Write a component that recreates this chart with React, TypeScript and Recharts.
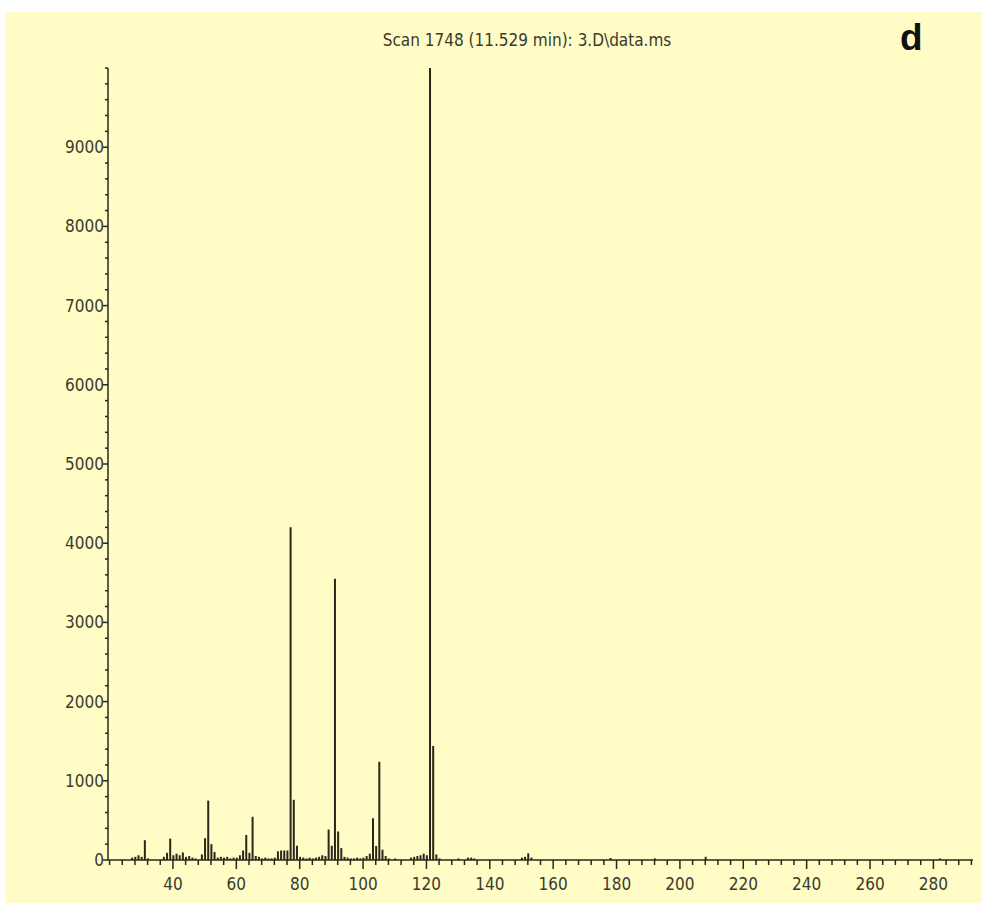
import React from 'react';
import { ComposedChart, Bar, XAxis, YAxis } from 'recharts';

// m/z and abundance of each ion in the scan
const MZ = [
  27, 28, 29, 30, 31, 32, 37, 38, 39, 40, 41, 42, 43, 44, 45, 46, 47, 49, 50, 51,
  52, 53, 54, 55, 56, 57, 58, 59, 60, 61, 62, 63, 64, 65, 66, 67, 68, 69, 70, 71,
  72, 73, 74, 75, 76, 77, 78, 79, 80, 81, 82, 83, 84, 85, 86, 87, 88, 89, 90, 91,
  92, 93, 94, 95, 96, 97, 98, 99, 100, 101, 102, 103, 104, 105, 106, 107, 108, 110,
  115, 116, 117, 118, 119, 120, 121, 122, 123, 124, 130, 133, 134, 135, 150, 151,
  152, 153, 178, 192, 208, 282,
];
const ABUNDANCE = [
  30, 40, 60, 40, 250, 20, 40, 90, 270, 60, 80, 60, 95, 40, 50, 30, 20, 70, 275, 750,
  200, 100, 30, 40, 30, 40, 20, 30, 30, 60, 120, 316, 90, 545, 50, 40, 20, 30, 20, 20,
  30, 110, 120, 120, 120, 4200, 760, 180, 40, 30, 20, 30, 20, 30, 40, 60, 50, 385, 180, 3550,
  360, 150, 40, 30, 20, 20, 30, 20, 30, 50, 80, 527, 177, 1240, 130, 50, 20, 20,
  30, 40, 50, 60, 80, 60, 10000, 1440, 70, 20, 20, 30, 30, 20, 30, 40,
  85, 30, 25, 20, 40, 20,
];

const X_LABELS = [40, 60, 80, 100, 120, 140, 160, 180, 200, 220, 240, 260, 280];
const Y_LABELS = [0, 1000, 2000, 3000, 4000, 5000, 6000, 7000, 8000, 9000];
// minor ticks: every 4 m/z units and every 200 counts
const X_TICKS = Array.from({ length: 69 }, (_, i) => 20 + i * 4);
const Y_TICKS = Array.from({ length: 51 }, (_, i) => i * 200);

const TITLE = 'Scan 1748 (11.529 min): 3.D\\data.ms';
const PANEL = 'd';

const INK = '#28281a';
const TEXT = '#3a3a30';
const BG = '#fffcc6';
const FONT = "'Liberation Sans Narrow', 'DejaVu Sans Condensed', 'Arial Narrow', sans-serif";

const data = MZ.map((mz, i) => ({ mz, abundance: ABUNDANCE[i] }));

const XTick = (props: any) => {
  const { x, y, payload } = props;
  const major = X_LABELS.includes(payload.value);
  return (
    <g>
      <line x1={x} x2={x} y1={y} y2={y + (major ? 9 : 5)} stroke={INK} strokeWidth={1.5} />
      {major && (
        <text x={x} y={y + 30} textAnchor="middle" fill={TEXT} fontSize={17} fontFamily={FONT}>
          {payload.value}
        </text>
      )}
    </g>
  );
};

const YTick = (props: any) => {
  const { x, y, payload } = props;
  const major = Y_LABELS.includes(payload.value);
  return (
    <g>
      <line x1={x - (major ? 5 : 3)} x2={x} y1={y} y2={y} stroke={INK} strokeWidth={1.5} />
      {major && (
        <text x={x - 4} y={y + 6} textAnchor="end" fill={TEXT} fontSize={17} fontFamily={FONT}>
          {payload.value}
        </text>
      )}
    </g>
  );
};

export default function App() {
  return (
    <div style={{ position: 'absolute', left: 0, top: 0, width: 982, height: 903, background: '#fff', overflow: 'hidden' }}>
      <div style={{ position: 'absolute', left: 5, top: 12, right: 0, bottom: 0, background: BG }} />
      <div style={{ position: 'absolute', left: 0, top: 0 }}>
        <ComposedChart
          width={982}
          height={903}
          data={data}
          margin={{ top: 68, right: 9, bottom: 0, left: 48 }}
        >
          <XAxis
            dataKey="mz"
            type="number"
            domain={[19.5, 292.5]}
            allowDataOverflow
            ticks={X_TICKS}
            interval={0}
            tickSize={0}
            tickMargin={0}
            tickLine={false}
            tick={<XTick />}
            height={43}
            axisLine={{ stroke: INK, strokeWidth: 1.5 }}
          />
          <YAxis
            type="number"
            domain={[0, 10000]}
            allowDataOverflow
            ticks={Y_TICKS}
            interval={0}
            tickSize={0}
            tickMargin={0}
            tickLine={false}
            tick={<YTick />}
            width={60}
            axisLine={{ stroke: INK, strokeWidth: 1.5 }}
          />
          <Bar dataKey="abundance" fill={INK} barSize={2} isAnimationActive={false} />
        </ComposedChart>
      </div>
      <div
        style={{
          position: 'absolute', left: 527, top: 30, transform: 'translateX(-50%)',
          fontFamily: FONT, fontSize: 17, color: TEXT, whiteSpace: 'nowrap',
        }}
      >
        {TITLE}
      </div>
      <div
        style={{
          position: 'absolute', left: 900, top: 17,
          fontFamily: "'Liberation Sans', Arial, sans-serif", fontSize: 37, fontWeight: 'bold', color: '#111',
        }}
      >
        {PANEL}
      </div>
    </div>
  );
}
